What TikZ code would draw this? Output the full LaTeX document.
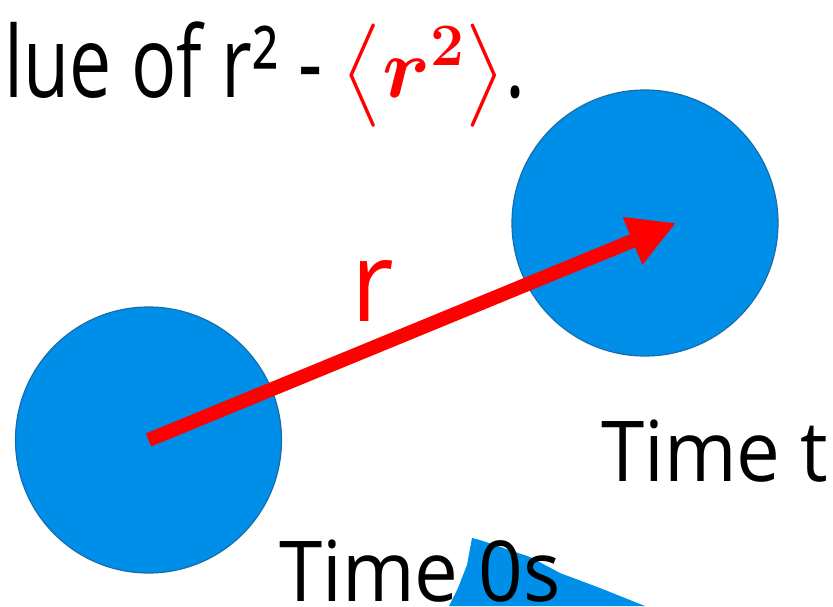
\RequirePackage{fix-cm}
\documentclass[tikz,border=0pt]{standalone}
\usepackage{amsmath,amssymb}
\usepackage{xcolor}
\usepackage[no-math]{fontspec}
\setmainfont{Open Sans}
\newfontfamily\letra{Open Sans}[FakeStretch=0.93]
\newfontfamily\letraangosta{Open Sans}[FakeStretch=0.76]
\usetikzlibrary{arrows.meta}
\definecolor{azulp}{RGB}{0,143,232}
\definecolor{bordep}{RGB}{22,108,172}

\begin{document}
\begin{tikzpicture}[x=1pt, y=-1pt,
  particula/.style={circle, draw=bordep, line width=1.2pt, fill=azulp, minimum size=266pt, inner sep=0pt},
  texto/.style={anchor=base west, inner sep=0pt, font=\letra\fontsize{84}{96}\selectfont},
  flecha/.style={red, line width=14pt, -{Triangle[length=47pt, width=48pt]}}
]
  \useasboundingbox (0,0) rectangle (833,606);
  % trozo azul de abajo
  \fill[azulp] (472,538) -- (480,540) -- (530,557) -- (560,573) -- (600,588)
    -- (645,606) -- (449,606) -- (458,588) -- (467,565) -- cycle;
  \node[particula] (inicio) at (148.5,440) {};
  \node[particula] (final) at (645,223) {};
  \coordinate (punta) at (676,223);
  \draw[flecha] (inicio.center) -- (punta);
  \node[texto, text=red, font=\letra\fontsize{112}{120}\selectfont] (etiqueta) at (351,321.7) {r};
  \node[texto, font=\letraangosta\fontsize{99}{110}\selectfont] (titulo) at (4,97)
    {lue of r² - {\fontsize{86}{96}\selectfont\textcolor{red}{$\bigl\langle\boldsymbol{r}^{\boldsymbol{2}}\bigr\rangle$}}.};
  \node[texto] (tfinal) at (601,481.7) {Time t};
  \node[texto] (tinicio) at (279,601) {Time 0s};
\end{tikzpicture}
\end{document}
